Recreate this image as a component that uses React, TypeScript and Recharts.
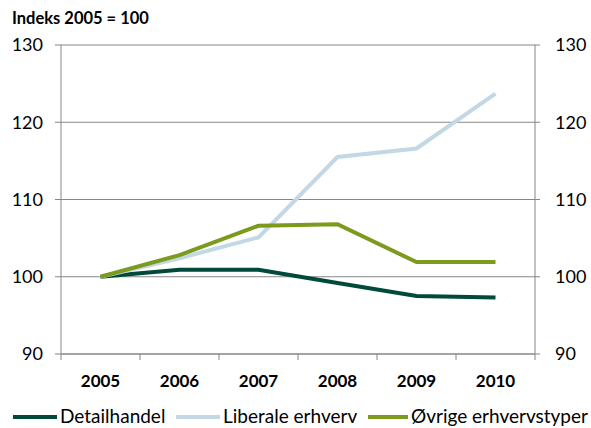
import { LineChart, Line, XAxis, YAxis, CartesianGrid, Legend } from 'recharts'

const years = ['2005', '2006', '2007', '2008', '2009', '2010']
const detailhandel = [100, 100.9, 100.9, 99.2, 97.5, 97.3]
const liberale = [100, 102.4, 105.1, 115.5, 116.6, 123.7]
const ovrige = [100, 102.8, 106.6, 106.8, 101.9, 101.9]
const yTicks = [90, 100, 110, 120, 130]

const data = years.map((year, i) => ({
  year,
  detailhandel: detailhandel[i],
  liberale: liberale[i],
  ovrige: ovrige[i]
}))

const series = [
  { key: 'detailhandel', name: 'Detailhandel', color: '#00493B', axis: 'right' },
  { key: 'liberale', name: 'Liberale erhverv', color: '#C3D8E4', axis: 'left' },
  { key: 'ovrige', name: 'Øvrige erhvervstyper', color: '#7C9A1D', axis: 'left' }
]

const FONT = 'Lato, "Open Sans", sans-serif'
const AXIS = '#868686'
const HALF = 39.5

const YearTick = (props: any) => {
  const { x, y, payload, index, visibleTicksCount } = props
  const last = index === visibleTicksCount - 1
  return (
    <g>
      <line x1={x - HALF} x2={x - HALF} y1={y} y2={y + 6} stroke={AXIS} />
      {last && <line x1={x + HALF} x2={x + HALF} y1={y} y2={y + 6} stroke={AXIS} />}
      <text x={x} y={y + 33} textAnchor="middle" fontSize={17} fontWeight="bold" fill="#000" fontFamily={FONT}>
        {payload.value}
      </text>
    </g>
  )
}

const LegendContent = () => {
  const lines = [
    [13, 57],
    [176, 220],
    [368, 408]
  ]
  return (
    <svg width={591} height={30} style={{ display: 'block' }}>
      {series.map((s, i) => (
        <g key={s.key}>
          <line x1={lines[i][0]} x2={lines[i][1]} y1={19} y2={19} stroke={s.color} strokeWidth={4} />
          <text x={lines[i][1] + 3} y={25} fontSize={19} fill="#000" fontFamily={FONT}>
            {s.name}
          </text>
        </g>
      ))}
    </svg>
  )
}

export default function App() {
  return (
    <div style={{ position: 'absolute', left: 0, top: 0, width: 591, height: 428, background: '#fff' }}>
      <div style={{ position: 'absolute', left: 12, top: 8, fontFamily: FONT, fontWeight: 'bold', fontSize: 16.5 }}>
        Indeks 2005 = 100
      </div>
      <LineChart width={591} height={428} data={data} margin={{ top: 45, right: 0, bottom: 0, left: 0 }}>
        <CartesianGrid vertical={false} stroke={AXIS} strokeWidth={1} yAxisId="left" />
        <XAxis
          dataKey="year"
          padding={{ left: HALF, right: HALF }}
          stroke={AXIS}
          tickLine={false}
          tickSize={0}
          tickMargin={0}
          height={44}
          tick={<YearTick />}
          interval={0}
        />
        <YAxis
          yAxisId="left"
          orientation="left"
          domain={[90, 130]}
          ticks={yTicks}
          width={61}
          stroke={AXIS}
          tickSize={6}
          tickMargin={12}
          tick={{ fill: '#000', fontSize: 18, fontFamily: FONT }}
        />
        <YAxis
          yAxisId="right"
          orientation="right"
          domain={[90, 130]}
          ticks={yTicks}
          width={56}
          stroke={AXIS}
          tickSize={5}
          tickMargin={15}
          tick={{ fill: '#000', fontSize: 18, fontFamily: FONT }}
        />
        <Legend verticalAlign="bottom" height={30} content={<LegendContent />} />
        {series.map((s) => (
          <Line
            key={s.key}
            yAxisId={s.axis}
            dataKey={s.key}
            name={s.name}
            stroke={s.color}
            strokeWidth={4}
            dot={false}
            type="linear"
            isAnimationActive={false}
          />
        ))}
      </LineChart>
    </div>
  )
}
